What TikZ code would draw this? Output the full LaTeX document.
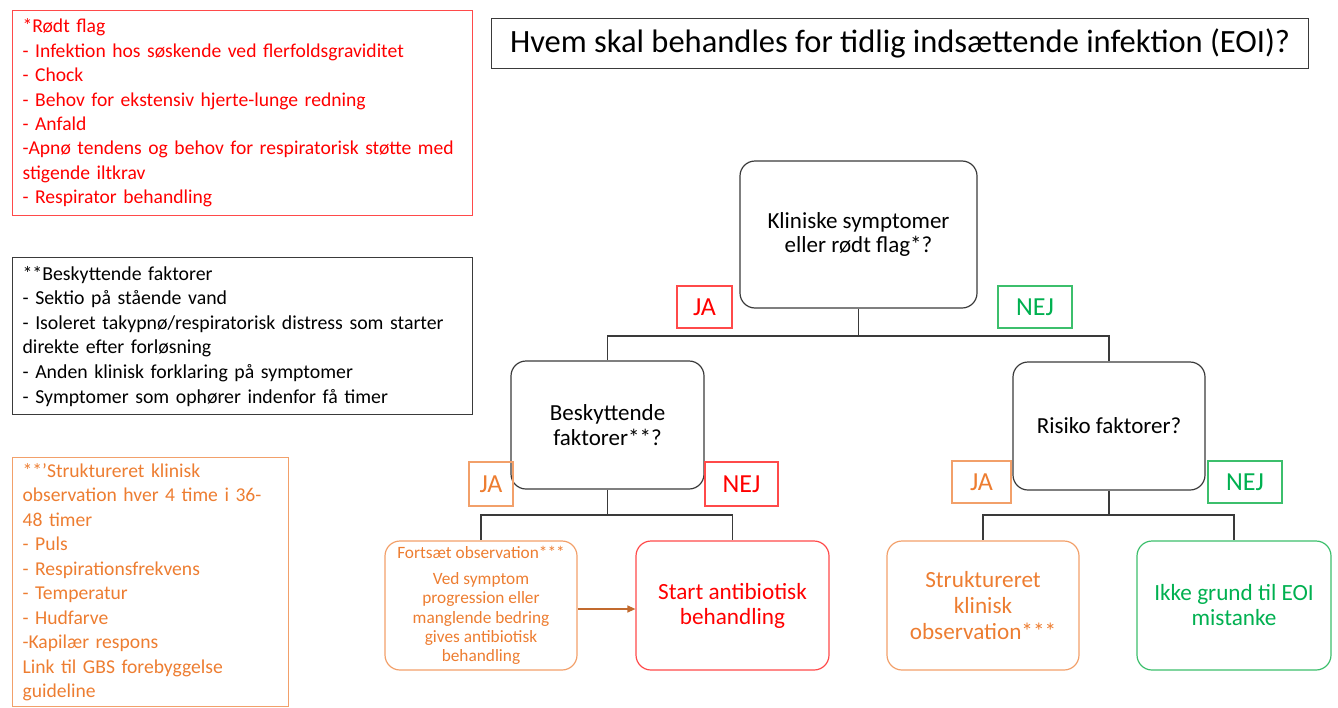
\documentclass[tikz,border=0pt]{standalone}
\usepackage{fontspec}
\setmainfont{Carlito}
\usetikzlibrary{arrows.meta}
\definecolor{redtxt}{HTML}{FF0000}
\definecolor{redline}{HTML}{FF4A4A}
\definecolor{orangetxt}{HTML}{ED7D31}
\definecolor{orangeline}{HTML}{F2A06A}
\definecolor{greentxt}{HTML}{00B050}
\definecolor{greenline}{HTML}{3CBF6C}
\definecolor{grayline}{HTML}{3A3A3A}
\definecolor{arrowc}{HTML}{C26A2E}
\tikzset{
  notebox/.style={draw, line width=1.2pt, inner xsep=10pt, inner ysep=0pt, align=left, anchor=north west},
  decision/.style={draw=grayline, line width=1.2pt, rounded corners=15pt, align=center, font=\fontsize{23}{24.5}\selectfont},
  result/.style={line width=1.2pt, rounded corners=15pt, align=center, minimum width=193pt, minimum height=129pt},
  tag/.style={draw, line width=1.2pt, font=\fontsize{26}{28}\selectfont, inner sep=0pt},
  conn/.style={draw=grayline, line width=1.2pt}
}
\begin{document}
\begin{tikzpicture}[x=1pt,y=-1pt]
\useasboundingbox (0,0) rectangle (1338,707);
% note boxes
\node[notebox, draw=redline, text=redtxt, minimum width=460pt, minimum height=205pt, text width=440pt, font=\fontsize{19.6}{24.4}\selectfont] (redflag) at (12,10)
{*Rødt flag\\
- Infektion hos søskende ved flerfoldsgraviditet\\
- Chock\\
- Behov for ekstensiv hjerte-lunge redning\\
- Anfald\\
-Apnø tendens og behov for respiratorisk støtte med\\
stigende iltkrav\\
- Respirator behandling};
\node[notebox, draw=grayline, text=black, minimum width=460pt, minimum height=157pt, text width=440pt, font=\fontsize{19.8}{24.6}\selectfont] (protect) at (12,257)
{**Beskyttende faktorer\\
- Sektio på stående vand\\
- Isoleret takypnø/respiratorisk distress som starter\\
direkte efter forløsning\\
- Anden klinisk forklaring på symptomer\\
- Symptomer som ophører indenfor få timer};
\node[notebox, draw=orangeline, text=orangetxt, minimum width=276pt, minimum height=249pt, text width=256pt, font=\fontsize{19.6}{24.5}\selectfont] (obsnote) at (12,457)
{**’Struktureret klinisk\\
observation hver 4 time i 36-\\
48 timer\\
- Puls\\
- Respirationsfrekvens\\
- Temperatur\\
- Hudfarve\\
-Kapilær respons\\
Link til GBS forebyggelse\\
guideline};
% title
\node[draw=grayline, line width=1.2pt, minimum width=817pt, minimum height=50pt, font=\fontsize{32.5}{34}\selectfont, anchor=north west] (title) at (491,18)
{Hvem skal behandles for tidlig indsættende infektion (EOI)?};
% decisions
\node[decision, minimum width=237pt, minimum height=147pt] (q1) at (858.5,234.5) {Kliniske symptomer\\eller rødt flag*?};
\node[decision, minimum width=193pt, minimum height=128pt] (q2) at (607.5,425) {Beskyttende\\faktorer**?};
\node[decision, minimum width=192pt, minimum height=128pt] (q3) at (1109,426) {Risiko faktorer?};
% tags
\node[tag, draw=redline, text=redtxt, minimum width=55pt, minimum height=42pt] (ja1) at (704.5,307) {JA};
\node[tag, draw=greenline, text=greentxt, minimum width=74pt, minimum height=42pt] (nej1) at (1035,307) {NEJ};
\node[tag, draw=orangeline, text=orangetxt, minimum width=44pt, minimum height=44pt] (ja2) at (491,484) {JA};
\node[tag, draw=redline, text=redtxt, minimum width=73pt, minimum height=44pt] (nej2) at (741.5,484) {NEJ};
\node[tag, draw=orangeline, text=orangetxt, minimum width=59pt, minimum height=42pt] (ja3) at (981.5,482) {JA};
\node[tag, draw=greenline, text=greentxt, minimum width=74pt, minimum height=42pt] (nej3) at (1245,482) {NEJ};
% results
\node[result, draw=orangeline, text=orangetxt, minimum width=192pt, font=\fontsize{17.3}{19.3}\selectfont] (fort) at (481,605.5)
{Fortsæt observation***\\[6.7pt]Ved symptom\\progression eller\\manglende bedring\\gives antibiotisk\\behandling};
\node[result, draw=redline, text=redtxt, font=\fontsize{23.2}{25}\selectfont] (start) at (732.5,605.5) {Start antibiotisk\\behandling};
\node[result, draw=orangeline, text=orangetxt, minimum width=192pt, font=\fontsize{23.2}{26}\selectfont] (strukt) at (983,605.5) {Struktureret\\klinisk\\observation***};
\node[result, draw=greenline, text=greentxt, minimum width=194pt, font=\fontsize{23.2}{25}\selectfont] (ikke) at (1234,605.5) {Ikke grund til EOI\\mistanke};
% connectors
\coordinate (j1) at (858.5,336);
\coordinate (j2) at (607.5,515);
\coordinate (j3) at (1109,515);
\draw[conn] (q1.south) -- (j1);
\draw[conn] (j1) -| (q2.north);
\draw[conn] (j1) -| (q3.north);
\draw[conn] (q2.south) -- (j2);
\draw[conn] (j2) -| (fort.north);
\draw[conn] (j2) -| (start.north);
\draw[conn] (q3.south) -- (j3);
\draw[conn] (j3) -| (strukt.north);
\draw[conn] (j3) -| (ikke.north);
\draw[draw=arrowc, line width=1.2pt, -{Triangle[length=8pt,width=7pt]}] (fort.east |- 0,609) -- (start.west |- 0,609);
\end{tikzpicture}
\end{document}
